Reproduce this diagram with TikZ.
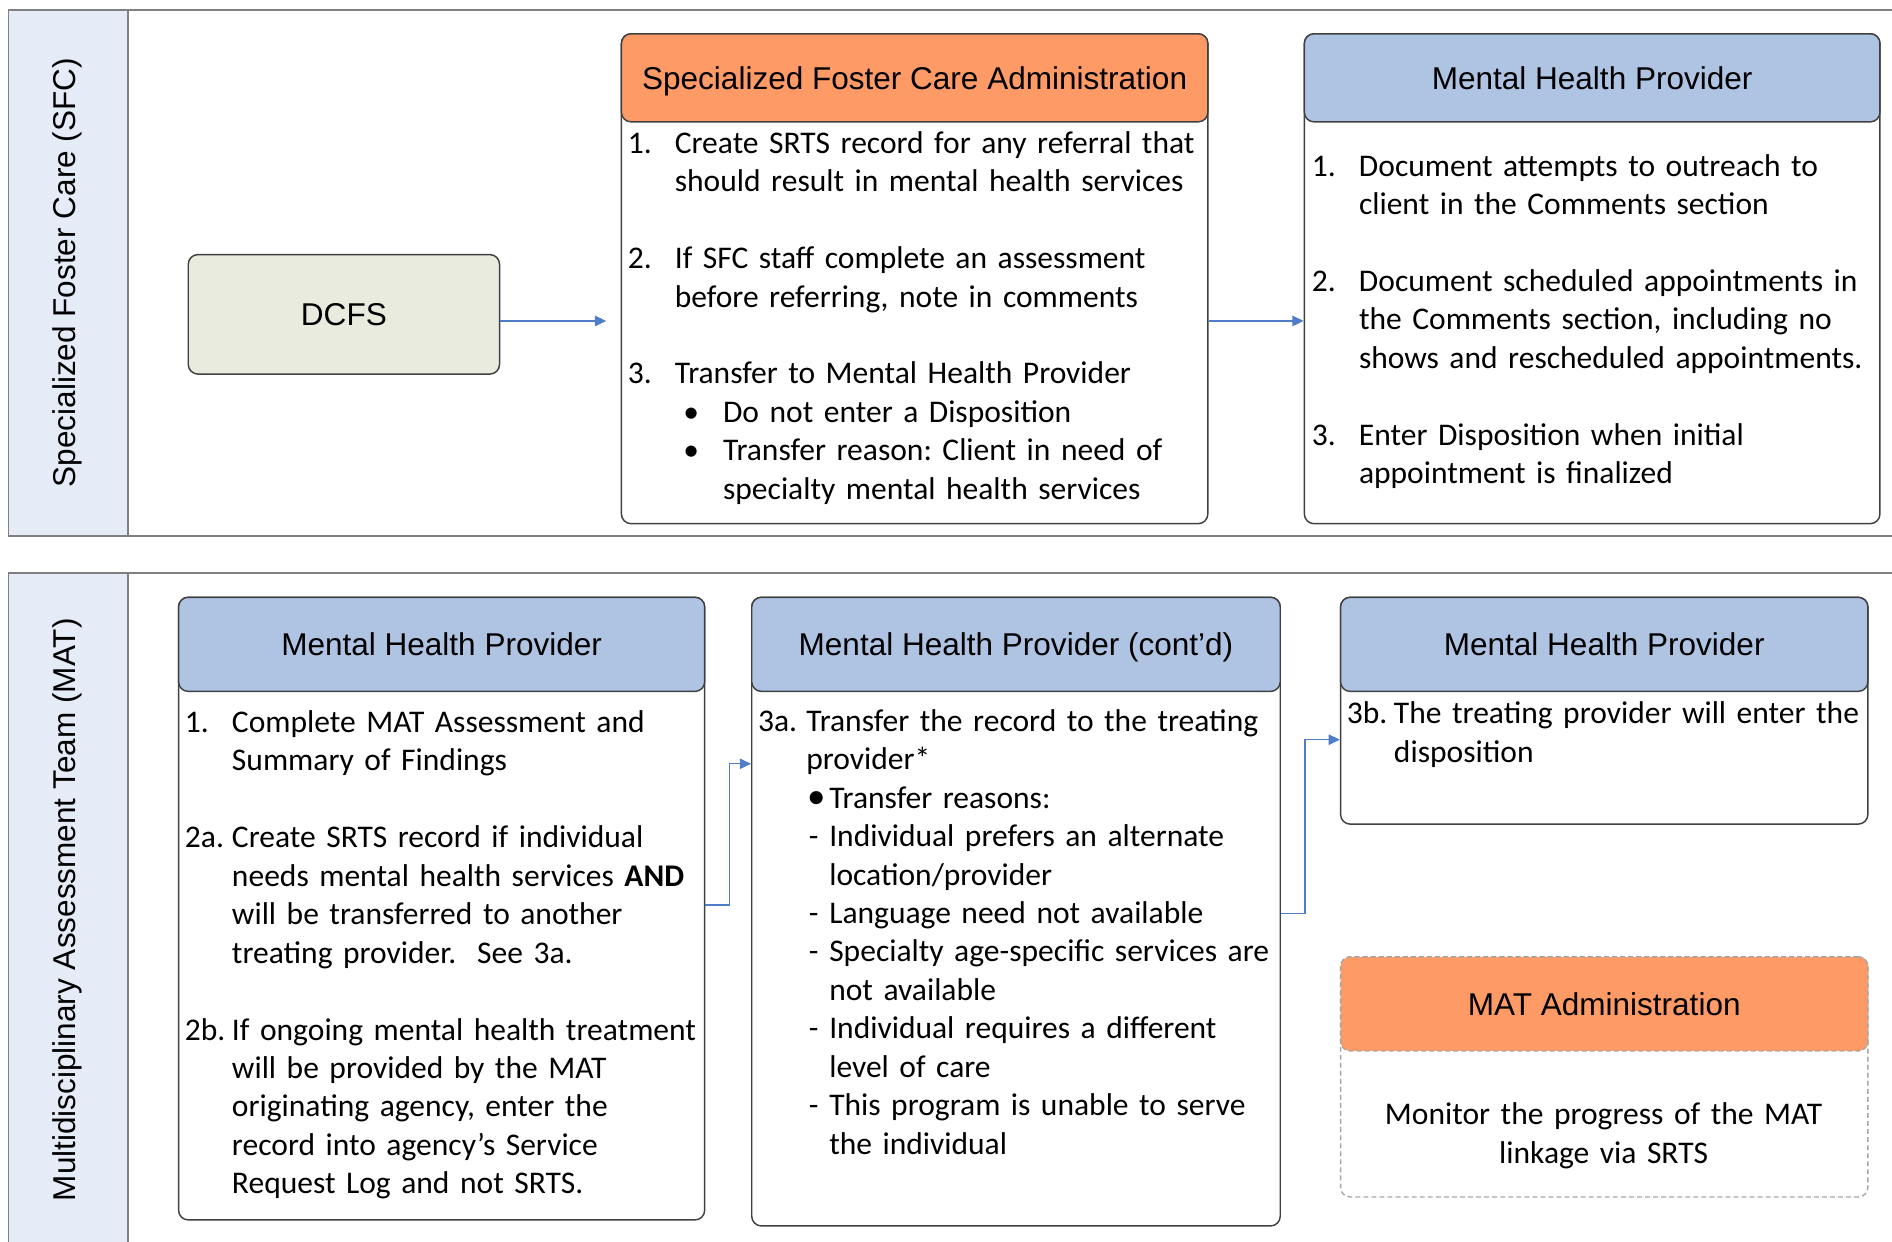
\documentclass[tikz,border=0pt]{standalone}
\usepackage{fontspec}
\setmainfont{Carlito}
\newfontfamily\hdfont{Liberation Sans}
\usetikzlibrary{arrows.meta,fit}
\definecolor{laneblue}{HTML}{E6ECF7}
\definecolor{lanegray}{HTML}{808080}
\definecolor{dcfsfill}{HTML}{EAEBDF}
\definecolor{hdorange}{HTML}{FD9A66}
\definecolor{hdblue}{HTML}{AFC4E3}
\definecolor{boxline}{HTML}{404040}
\definecolor{arrowblue}{HTML}{4F7DC9}
\definecolor{dashgray}{HTML}{A6A6A6}
\newcommand{\nm}[2]{\makebox[29.25pt][l]{#1}#2}
\newcommand{\ct}[1]{\hspace*{29.25pt}#1}
\newcommand{\bsk}{\\[23.9pt]}
\frenchspacing
\begin{document}
\begin{tikzpicture}[x=0.75pt,y=-0.75pt,
  lane/.style={draw=lanegray, line width=1.1pt},
  lanestrip/.style={fill=laneblue, draw=lanegray, line width=1.1pt},
  lanelabel/.style={rotate=90, inner sep=0pt, font=\hdfont\fontsize{19.6}{24}\selectfont},
  bodybox/.style={draw=boxline, line width=0.9pt, fill=white, rounded corners=6pt, inner sep=0pt},
  headorange/.style={bodybox, fill=hdorange},
  headblue/.style={bodybox, fill=hdblue},
  dashbody/.style={bodybox, draw=dashgray, dash pattern=on 3pt off 2pt},
  dashhead/.style={dashbody, fill=hdorange},
  dcfsbox/.style={bodybox, fill=dcfsfill},
  headtext/.style={anchor=base, yshift=-7.1pt, inner sep=0pt, font=\hdfont\fontsize{19.6}{24}\selectfont},
  bodytext/.style={anchor=base west, inner sep=0pt, align=left, text width=400pt, font=\fontsize{19.6}{23.9}\selectfont},
  centertext/.style={anchor=base, inner sep=0pt, align=center, text width=320pt, font=\fontsize{19.6}{23.9}\selectfont},
  arr/.style={draw=arrowblue, line width=0.8pt, -{Triangle[length=7pt,width=6.5pt]}}
]
\useasboundingbox (0,0) rectangle (1568,1028.5);
\clip (0,0) rectangle (1568,1028.5);

% ---- lane 1 (SFC)
\draw[lane] (1580,8) -- (7,8) -- (7,444) -- (1580,444);
\path[lanestrip] (7,8) rectangle (106,444);
\node[lanelabel] (sfclabel) at (56,226) {Specialized Foster Care (SFC)};

% ---- lane 2 (MAT)
\draw[lane] (1580,475) -- (7,475) -- (7,1040);
\path[lanestrip] (7,475) rectangle (106,1040);
\node[lanelabel] (matlabel) at (56,754) {Multidisciplinary Assessment Team (MAT)};

% ---- DCFS
\node[dcfsbox, fit={(156,211) (414,310)}] (dcfs) {};
\node[headtext] (dcfstext) at (dcfs.center) {DCFS};

% ---- SFC administration
\node[bodybox, fit={(515,28) (1001,434)}] (sfcbody) {};
\node[headorange, fit={(515,28) (1001,101)}] (sfchead) {};
\node[headtext] (sfcheadtext) at (sfchead.center) {Specialized Foster Care Administration};
\node[bodytext] (sfctext) at (520,127) {%
\nm{1.}{Create SRTS record for any referral that}\\
\ct{should result in mental health services}\bsk
\nm{2.}{If SFC staff complete an assessment}\\
\ct{before referring, note in comments}\bsk
\nm{3.}{Transfer to Mental Health Provider}\\
\hspace*{34.5pt}\makebox[24.75pt][l]{•}Do not enter a Disposition\\
\hspace*{34.5pt}\makebox[24.75pt][l]{•}Transfer reason: Client in need of\\
\hspace*{59.25pt}specialty mental health services};

% ---- Mental health provider (SFC lane)
\node[bodybox, fit={(1081,28) (1558,434)}] (mhpbody) {};
\node[headblue, fit={(1081,28) (1558,101)}] (mhphead) {};
\node[headtext] (mhpheadtext) at (mhphead.center) {Mental Health Provider};
\node[bodytext] (mhptext) at (1087,146) {%
\nm{1.}{Document attempts to outreach to}\\
\ct{client in the Comments section}\bsk
\nm{2.}{Document scheduled appointments in}\\
\ct{the Comments section, including no}\\
\ct{shows and rescheduled appointments.}\bsk
\nm{3.}{Enter Disposition when initial}\\
\ct{appointment is finalized}};

% ---- MAT lane boxes
\node[bodybox, fit={(148,495) (584,1011)}] (mhpa) {};
\node[headblue, fit={(148,495) (584,573)}] (mhpahead) {};
\node[headtext] (mhpaheadtext) at (mhpahead.center) {Mental Health Provider};
\node[bodytext] (mhpatext) at (153,607) {%
\nm{1.}{Complete MAT Assessment and}\\
\ct{Summary of Findings}\bsk
\nm{2a.}{Create SRTS record if individual}\\
\ct{needs mental health services \textbf{AND}}\\
\ct{will be transferred to another}\\
\ct{treating provider.\ \ See 3a.}\bsk
\nm{2b.}{If ongoing mental health treatment}\\
\ct{will be provided by the MAT}\\
\ct{originating agency, enter the}\\
\ct{record into agency’s Service}\\
\ct{Request Log and not SRTS.}};

\node[bodybox, fit={(623,495) (1061,1016)}] (mhpb) {};
\node[headblue, fit={(623,495) (1061,573)}] (mhpbhead) {};
\node[headtext] (mhpbheadtext) at (mhpbhead.center) {Mental Health Provider (cont’d)};
\node[bodytext] (mhpbtext) at (628,606) {%
\makebox[30pt][l]{3a.}Transfer the record to the treating\\
\hspace*{30pt}provider*\\
\hspace*{30.5pt}\makebox[13.75pt][l]{\fontsize{23}{23.9}\selectfont•}Transfer reasons:\\
\hspace*{31.5pt}\makebox[12.75pt][l]{-}Individual prefers an alternate\\
\hspace*{44.25pt}location/provider\\
\hspace*{31.5pt}\makebox[12.75pt][l]{-}Language need not available\\
\hspace*{31.5pt}\makebox[12.75pt][l]{-}Specialty age-specific services are\\
\hspace*{44.25pt}not available\\
\hspace*{31.5pt}\makebox[12.75pt][l]{-}Individual requires a different\\
\hspace*{44.25pt}level of care\\
\hspace*{31.5pt}\makebox[12.75pt][l]{-}This program is unable to serve\\
\hspace*{44.25pt}the individual};

\node[bodybox, fit={(1111,495) (1548,683)}] (mhpc) {};
\node[headblue, fit={(1111,495) (1548,573)}] (mhpchead) {};
\node[headtext] (mhpcheadtext) at (mhpchead.center) {Mental Health Provider};
\node[bodytext] (mhpctext) at (1116,600) {%
\nm{3b.}{The treating provider will enter the}\\
\ct{disposition}};

\node[dashbody, fit={(1111,793) (1548,992)}] (matadmin) {};
\node[dashhead, fit={(1111,793) (1548,871)}] (matadminhead) {};
\node[headtext] (matadminheadtext) at (matadminhead.center) {MAT Administration};
\node[centertext] (matadmintext) at (1329,932) {Monitor the progress of the MAT\\ linkage via SRTS};

% ---- connectors
\coordinate (ytop) at (0,266);
\coordinate (ya) at (0,750);
\coordinate (yb) at (0,633);
\coordinate (yc) at (0,757);
\coordinate (yd) at (0,613);
\draw[arr, shorten >=9pt] (dcfs.east |- ytop) -- (sfcbody.west |- ytop);
\draw[arr] (sfcbody.east |- ytop) -- (mhpbody.west |- ytop);
\draw[arr] (mhpa.east |- ya) -- ++(20,0) |- (mhpb.west |- yb);
\draw[arr] (mhpb.east |- yc) -- ++(20,0) |- (mhpc.west |- yd);
\end{tikzpicture}
\end{document}
